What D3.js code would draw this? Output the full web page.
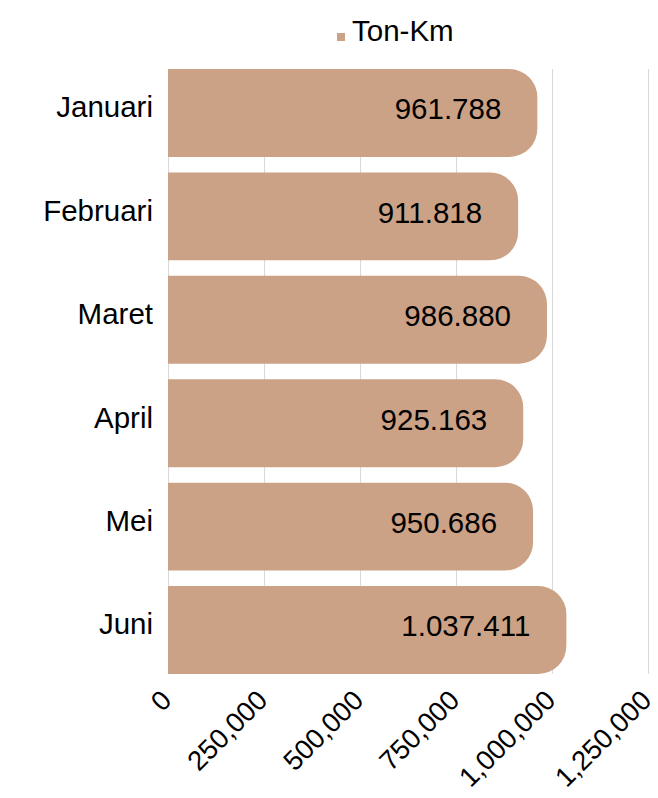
<!DOCTYPE html>
<html>
<head>
<meta charset="utf-8">
<script src="https://cdn.jsdelivr.net/npm/d3@7"></script>
<style>
  html, body { margin: 0; padding: 0; background: #fff; }
  svg { display: block; font-family: "Liberation Sans", Arial, sans-serif; }
</style>
</head>
<body>
<svg id="chart" width="658" height="798"></svg>
<script>
// Monthly freight volume (ton-kilometres)
const months = ["Januari", "Februari", "Maret", "April", "Mei", "Juni"];
const tonKm = [961788, 911818, 986880, 925163, 950686, 1037411];
const valueLabels = ["961.788", "911.818", "986.880", "925.163", "950.686", "1.037.411"];
const tickValues = [0, 250000, 500000, 750000, 1000000, 1250000];
const tickLabels = ["0", "250,000", "500,000", "750,000", "1,000,000", "1,250,000"];
const seriesName = "Ton-Km";

const barColor = "#CCA287";
const textColor = "#000";
const fontSize = 29.5;
const tickFontSize = 27.5;

const svg = d3.select("#chart");

const x = d3.scaleLinear().domain([0, 1250000]).range([168, 648]);
const y = d3.scaleBand().domain(months).range([61.3, 681.7])
  .paddingInner(0.15).paddingOuter(0.075);

const bw = y.bandwidth();
const gridTop = y(months[0]);
const gridBottom = y(months[months.length - 1]) + bw;

// vertical gridlines
svg.append("g")
  .selectAll("line")
  .data(tickValues)
  .join("line")
  .attr("x1", d => Math.round(x(d)) + 0.5)
  .attr("x2", d => Math.round(x(d)) + 0.5)
  .attr("y1", gridTop)
  .attr("y2", gridBottom)
  .attr("stroke", "#d9d9d9")
  .attr("stroke-width", 1);

// bars: square left edge, rounded right end
function barPath(x0, x1, y0, h, r) {
  r = Math.min(r, h / 2, x1 - x0);
  return `M${x0},${y0}H${x1 - r}A${r},${r} 0 0 1 ${x1},${y0 + r}` +
         `V${y0 + h - r}A${r},${r} 0 0 1 ${x1 - r},${y0 + h}H${x0}Z`;
}

const rows = months.map((m, i) => ({ m, v: tonKm[i], label: valueLabels[i] }));

svg.append("g")
  .selectAll("path")
  .data(rows)
  .join("path")
  .attr("d", d => barPath(x(0), x(d.v), y(d.m), bw, 28))
  .attr("fill", barColor);

// value labels near the bar end
svg.append("g")
  .selectAll("text")
  .data(rows)
  .join("text")
  .attr("x", d => x(d.v) - 36)
  .attr("y", d => y(d.m) + bw / 2 - 4)
  .attr("dy", "0.35em")
  .attr("text-anchor", "end")
  .attr("font-size", fontSize)
  .attr("fill", textColor)
  .text(d => d.label);

// category labels
svg.append("g")
  .selectAll("text")
  .data(months)
  .join("text")
  .attr("x", 153)
  .attr("y", d => y(d) + bw / 2 - 6)
  .attr("dy", "0.35em")
  .attr("text-anchor", "end")
  .attr("font-size", fontSize)
  .attr("fill", textColor)
  .text(d => d);

// x tick labels, rotated
const xAxis = d3.axisBottom(x)
  .tickValues(tickValues)
  .tickFormat((d, i) => tickLabels[i])
  .tickSize(0);

const gx = svg.append("g").call(xAxis);
gx.select(".domain").remove();
gx.selectAll(".tick").attr("transform", d => `translate(${x(d) + 5},702)`);
gx.selectAll(".tick text")
  .attr("x", 0).attr("y", 0).attr("dy", 0)
  .attr("transform", "rotate(-45)")
  .attr("text-anchor", "end")
  .attr("font-size", tickFontSize)
  .attr("font-family", "Liberation Sans, Arial, sans-serif")
  .attr("fill", textColor);

// legend
const legend = svg.append("g");
legend.append("rect")
  .attr("x", 337).attr("y", 33).attr("width", 8).attr("height", 8)
  .attr("fill", barColor);
legend.append("text")
  .attr("x", 352).attr("y", 41)
  .attr("font-size", fontSize)
  .attr("fill", textColor)
  .text(seriesName);
</script>
</body>
</html>
